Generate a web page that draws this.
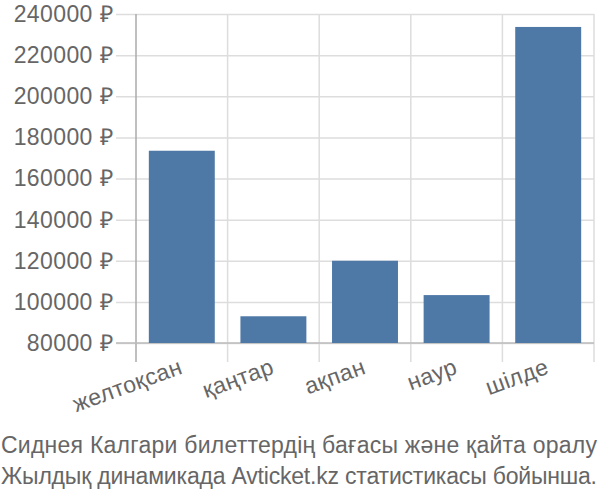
<!DOCTYPE html>
<html lang="kk">
  <head>
    <meta charset="UTF-8" />
    <script src="https://d3js.org/d3.v7.min.js"></script>
    <style>
      body {
        margin: 0;
        background: #fff;
      }
      text {
        font-family: "Liberation Sans", Arial, sans-serif;
        fill: #666;
        letter-spacing: 0.4px;
      }
    </style>
  </head>
  <body>
    <div id="chart"></div>
    <script>
      // data
      var months = ["желтоқсан", "қаңтар", "ақпан", "наур", "шілде"];
      var prices = [173500, 93000, 120000, 103300, 233700];
      var yTicks = [80000, 100000, 120000, 140000, 160000, 180000, 200000, 220000, 240000];
      var titleLines = [
        "Сиднея Калгари билеттердің бағасы және қайта оралу",
        "Жылдық динамикада Avticket.kz статистикасы бойынша."
      ];

      var W = 600, H = 500;
      var margin = { top: 14, right: 6, bottom: 157, left: 136 };

      var svg = d3
        .select("#chart")
        .append("svg")
        .attr("width", W)
        .attr("height", H);

      var x = d3
        .scaleBand()
        .domain(months)
        .range([margin.left, W - margin.right])
        .paddingInner(0.28)
        .paddingOuter(0.14);

      var y = d3
        .scaleLinear()
        .domain([80000, 240000])
        .range([H - margin.bottom, margin.top]);

      // horizontal grid + y labels
      var yAxis = d3
        .axisLeft(y)
        .tickValues(yTicks)
        .tickSize(-(W - margin.right - margin.left) - 20)
        .tickPadding(3)
        .tickFormat(function (d) {
          return d + " ₽";
        });

      var gy = svg
        .append("g")
        .attr("transform", "translate(" + (margin.left - 20) + ",0)")
        .call(yAxis);
      gy.select(".domain").remove();
      gy.selectAll("line").attr("stroke", "#ddd").attr("stroke-width", 1.5);
      gy.selectAll("text")
        .style("font-size", "23px")
        .attr("fill", "#666");

      // vertical grid at band edges
      var edges = months.map(function (m) {
        return x(m) - (x.step() * x.paddingInner()) / 2;
      });
      edges.push(W - margin.right);
      svg
        .append("g")
        .selectAll("line")
        .data(edges)
        .enter()
        .append("line")
        .attr("x1", function (d) { return d; })
        .attr("x2", function (d) { return d; })
        .attr("y1", margin.top)
        .attr("y2", H - margin.bottom + 19)
        .attr("stroke", function (d, i) { return i === 0 ? "#aaa" : "#ddd"; })
        .attr("stroke-width", 1.5);

      // x axis line
      svg
        .append("line")
        .attr("x1", margin.left - 20)
        .attr("x2", W - margin.right)
        .attr("y1", y(80000))
        .attr("y2", y(80000))
        .attr("stroke", "#bbb")
        .attr("stroke-width", 1.5);

      // bars
      svg
        .append("g")
        .selectAll("rect")
        .data(prices)
        .enter()
        .append("rect")
        .attr("x", function (d, i) { return x(months[i]); })
        .attr("y", function (d) { return y(d); })
        .attr("width", x.bandwidth())
        .attr("height", function (d) { return y(80000) - y(d); })
        .attr("fill", "#4e79a7");

      // rotated month labels
      svg
        .append("g")
        .selectAll("text")
        .data(months)
        .enter()
        .append("text")
        .attr("transform", function (d) {
          return "translate(" + (x(d) + x.bandwidth() / 2 + 2) + "," + (H - margin.bottom + 30) + ")rotate(-20)";
        })
        .attr("text-anchor", "end")
        .style("font-size", "23px")
        .text(function (d) { return d; });

      // caption, both lines run the full width as in the reference
      svg
        .append("g")
        .selectAll("text")
        .data(titleLines)
        .enter()
        .append("text")
        .attr("x", 1)
        .attr("y", function (d, i) { return 453 + i * 31; })
        .attr("textLength", 596)
        .attr("lengthAdjust", "spacing")
        .style("font-size", "23px")
        .style("letter-spacing", "0px")
        .text(function (d) { return d; });
    </script>
  </body>
</html>
